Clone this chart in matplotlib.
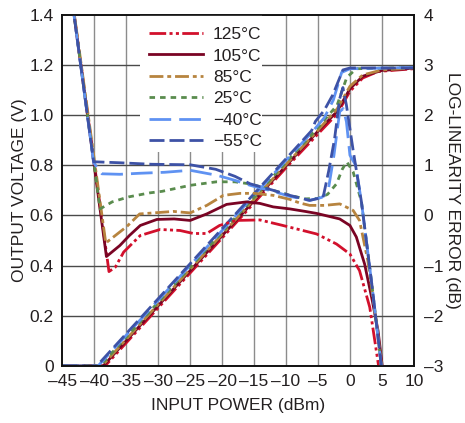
import matplotlib
matplotlib.use("Agg")
import matplotlib.pyplot as plt
from matplotlib.patches import Rectangle
from matplotlib.ticker import FixedLocator, FuncFormatter

plt.rcParams['font.family'] = ['Liberation Sans', 'DejaVu Sans']

# ---- output voltage (left axis, V) ----
pin_v_125 = [-45, -38.3, -20, -10, -5, -2, 0, 2, 4.4, 10]
out_v_125 = [0, 0, 0.51, 0.79, 0.925, 1.005, 1.095, 1.148, 1.174, 1.185]
pin_v_105 = [-45, -38.6, -20, -10, -5, -2, 0, 2, 5, 10]
out_v_105 = [0, 0, 0.519, 0.798, 0.936, 1.015, 1.105, 1.155, 1.178, 1.187]
pin_v_85 = [-45, -38.8, -20, -10, -5, -2, 0, 2, 5, 10]
out_v_85 = [0, 0, 0.525, 0.803, 0.94, 1.025, 1.115, 1.16, 1.18, 1.188]
pin_v_25 = [-45, -39.1, -20, -10, -5, -2, -0.5, 1, 10]
out_v_25 = [0, 0, 0.533, 0.812, 0.95, 1.04, 1.15, 1.185, 1.19]
pin_v_m40 = [-45, -39.4, -20, -10, -6, -4, -2.6, -1.3, 0, 10]
out_v_m40 = [0, 0, 0.54, 0.82, 0.93, 0.99, 1.06, 1.17, 1.185, 1.19]
pin_v_m55 = [-45, -39.6, -20, -10, -6, -5.4, -4, -2.7, -1.1, 0, 10]
out_v_m55 = [0, 0, 0.547, 0.826, 0.938, 0.975, 1.02, 1.08, 1.18, 1.188, 1.188]

# ---- log-linearity error (right axis, dB) ----
pin_e_125 = [-45, -37.7, -36.7, -35.4, -32.8, -29.7, -26.6, -24.5, -22.4, -20.4,
             -17.8, -14.1, -10.5, -5.2, -2.1, 0, 1.5, 3.1, 4.4, 4.6]
err_125 = [5.75, -1.12, -1.03, -0.73, -0.4, -0.28, -0.3, -0.36, -0.36, -0.2,
           -0.1, -0.09, -0.2, -0.37, -0.57, -0.77, -1.1, -1.83, -2.93, -3.1]
pin_e_105 = [-45, -38.1, -36, -34.5, -32.8, -30.2, -27.5, -25, -22.4, -19.3,
             -16.2, -14.1, -12, -9.4, -7, -5.2, -1.6, 0, 1, 2.3, 3.5, 4.4, 5.1]
err_105 = [5.75, -0.82, -0.6, -0.4, -0.2, -0.08, -0.07, -0.1, 0.03, 0.22,
           0.27, 0.24, 0.17, 0.13, 0.08, 0.04, -0.07, -0.2, -0.43, -0.97, -1.7, -2.3, -3.05]
pin_e_85 = [-45, -38.2, -36.5, -34.9, -32.9, -29.7, -27.6, -25, -22.4, -19.8,
            -17.2, -15, -12, -9.4, -7.9, -6.3, -4, -1.6, 0.5, 1.5, 2.8, 4, 5]
err_85 = [5.75, -0.55, -0.38, -0.22, 0.03, 0.06, 0.08, 0.05, 0.2, 0.4,
          0.44, 0.44, 0.4, 0.32, 0.25, 0.2, 0.2, 0.23, 0.1, -0.1, -0.9, -2.0, -3.05]
pin_e_25 = [-45, -39.1, -37.2, -34.6, -31.3, -29.4, -25, -20.9, -18, -15.7,
            -12, -9.4, -7, -5, -3.5, -2.1, -1.2, -0.5, 0.5, 1.8, 3.5, 5]
err_25 = [5.75, 0.13, 0.27, 0.37, 0.45, 0.48, 0.6, 0.67, 0.67, 0.63,
          0.5, 0.4, 0.33, 0.34, 0.42, 0.63, 0.92, 1.07, 0.87, 0.27, -1.45, -3.1]
pin_e_m40 = [-45, -40.1, -38.8, -36, -33, -29, -25, -20.8, -18, -15.6, -12,
             -9.4, -6.3, -4.4, -3.4, -2.5, -1.6, -1.05, -0.55, 0, 0.9, 1.8, 3.5, 5]
err_m40 = [5.75, 1.05, 0.83, 0.82, 0.84, 0.86, 0.9, 0.8, 0.7, 0.6, 0.48,
           0.38, 0.3, 0.36, 0.5, 1.2, 2.07, 2.13, 1.87, 1.2, 1.0, 0.27, -1.45, -3.1]
pin_e_m55 = [-45, -40.1, -36, -31, -25, -21, -18, -15.6, -12, -9.4, -6.3, -4.2,
             -3.3, -2.4, -1.6, -1.1, -0.55, 0.5, 1.8, 3.5, 5]
err_m55 = [5.75, 1.07, 1.05, 1.02, 1.01, 0.92, 0.78, 0.63, 0.5, 0.4, 0.3, 0.36,
           0.9, 1.53, 2.33, 2.55, 2.2, 1.3, 0.27, -1.45, -3.1]

labels = ['125°C', '105°C', '85°C', '25°C', '\u221240°C', '\u221255°C']
colors = ['#d2102c', '#7a0424', '#b7843f', '#5a8c4e', '#5f92f2', '#3d52a6']
styles = [(0, (6.0, 1.2, 1.1, 1.2, 1.1, 1.2)),
          '-',
          (0, (5.0, 1.4, 1.4, 1.4)),
          (0, (2.0, 1.8)),
          (0, (7.8, 2.9)),
          (0, (5.4, 1.8))]

volt_x = [pin_v_125, pin_v_105, pin_v_85, pin_v_25, pin_v_m40, pin_v_m55]
volt_y = [out_v_125, out_v_105, out_v_85, out_v_25, out_v_m40, out_v_m55]
err_x = [pin_e_125, pin_e_105, pin_e_85, pin_e_25, pin_e_m40, pin_e_m55]
err_y = [err_125, err_105, err_85, err_25, err_m40, err_m55]

x_ticks = list(range(-45, 11, 5))
v_ticks = [0, 0.2, 0.4, 0.6, 0.8, 1.0, 1.2, 1.4]
e_ticks = [-3, -2, -1, 0, 1, 2, 3, 4]

text_color = '#231f20'
fs = 12.5

fig = plt.figure(figsize=(4.65, 4.23), dpi=100)
ax = fig.add_axes([0.134, 0.135, 0.756, 0.830])
ax2 = ax.twinx()

ax.set_xlim(-45, 10)
ax.set_ylim(0, 1.4)
ax2.set_ylim(-3, 4)

# grid
for xv in x_ticks[1:-1]:
    ax.axvline(xv, color='#8c8c8c', lw=1.0, zorder=0)
for yv in v_ticks[1:-1]:
    ax.axhline(yv, color='#4a4a4a', lw=1.0, zorder=0)

lw = 2.0
for xs, ys, c, ls in zip(volt_x, volt_y, colors, styles):
    ax.plot(xs, ys, color=c, lw=lw, linestyle=ls, solid_joinstyle='round',
            dash_joinstyle='round', zorder=2)
for xs, ys, c, ls, lab in zip(err_x, err_y, colors, styles, labels):
    ax2.plot(xs, ys, color=c, lw=lw, linestyle=ls, label=lab,
             solid_joinstyle='round', dash_joinstyle='round', zorder=2)

# white panel behind the legend, running up to the top frame
ax2.add_patch(Rectangle((0.221, 0.61), 0.346, 0.39, transform=ax2.transAxes,
                        facecolor='white', edgecolor='none', zorder=1.5))

ax.xaxis.set_major_locator(FixedLocator(x_ticks))
ax.yaxis.set_major_locator(FixedLocator(v_ticks))
ax2.yaxis.set_major_locator(FixedLocator(e_ticks))
ax.yaxis.set_major_formatter(FuncFormatter(lambda v, p: '0' if v == 0 else f'{v:.1f}'))
ax.xaxis.set_major_formatter(FuncFormatter(lambda v, p: f'{int(v)}'.replace('-', '\u2013')))
ax2.yaxis.set_major_formatter(FuncFormatter(lambda v, p: f'{int(v)}'.replace('-', '\u2013')))

for a in (ax, ax2):
    a.tick_params(length=0, labelsize=fs, colors=text_color)
    for s in a.spines.values():
        s.set_color('#111111')
        s.set_linewidth(1.2)
ax.tick_params(axis='x', pad=6)
ax.tick_params(axis='y', pad=6)
ax2.tick_params(axis='y', pad=7)

ax.set_xlabel('INPUT POWER (dBm)', fontsize=fs, color=text_color, labelpad=6)
ax.set_ylabel('OUTPUT VOLTAGE (V)', fontsize=fs, color=text_color, labelpad=2)
ax2.set_ylabel('LOG-LINEARITY ERROR (dB)', fontsize=fs, color=text_color,
               rotation=-90, labelpad=12)

leg = ax2.legend(loc='upper left', bbox_to_anchor=(0.221, 0.99), fontsize=fs,
                 frameon=False, handlelength=3.1, handletextpad=0.6,
                 labelspacing=0.36, borderpad=0.5, borderaxespad=0)
for t in leg.get_texts():
    t.set_color(text_color)

fig.savefig('out.png', dpi=100)
